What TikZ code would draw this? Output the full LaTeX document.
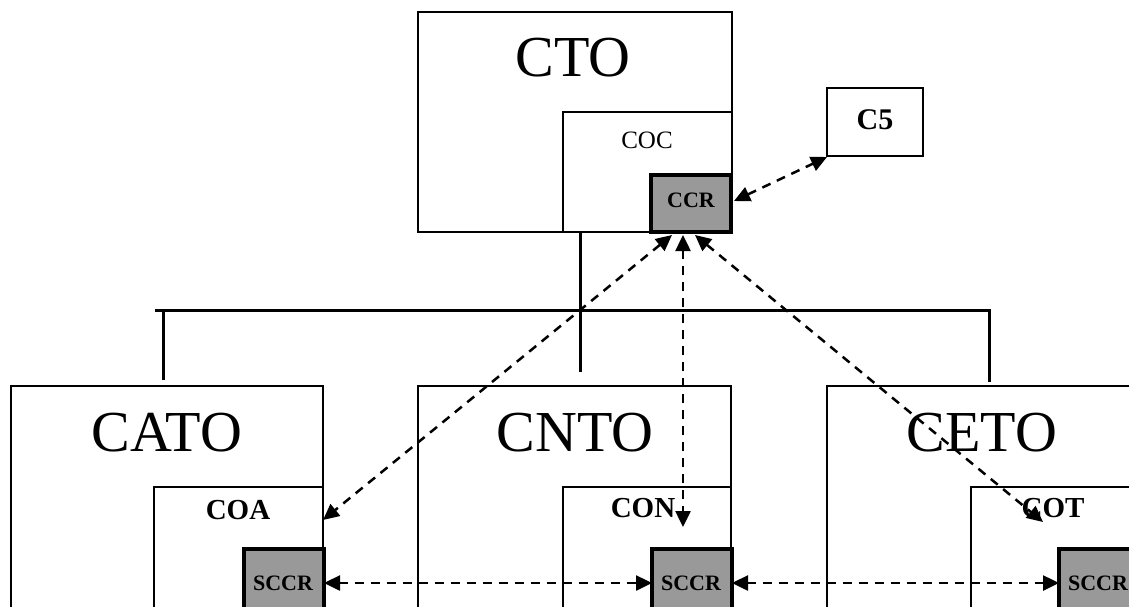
\documentclass[tikz,border=0pt]{standalone}
\usepackage{fontspec}
\setmainfont{Liberation Serif}
\usetikzlibrary{arrows.meta}
\definecolor{boxgray}{RGB}{153,153,153}
\tikzset{
  box/.style={draw, line width=1.3pt, anchor=north west, inner sep=0pt, outer sep=0pt},
  regbox/.style={draw, line width=3.5pt, fill=boxgray, anchor=north west, inner sep=0pt, outer sep=0pt},
  bus/.style={line width=3pt},
  tip/.tip={Triangle[length=16pt,width=15pt]},
  link/.style={line width=2.5pt, dash pattern=on 9pt off 7pt, tip-tip},
  big/.style={font=\fontsize{58}{60}\selectfont},
  mid/.style={font=\fontsize{29}{30}\selectfont\bfseries},
  small/.style={font=\fontsize{22}{23}\selectfont\bfseries}
}
\begin{document}
\begin{tikzpicture}[x=1pt,y=-1pt]
\useasboundingbox (0,0) rectangle (1129,606);
\clip (0,0) rectangle (1129,606);
% top organisation
\node[box, minimum width=314, minimum height=220] (cto) at (418,12) {};
\node[box, minimum width=169, minimum height=120] (coc) at (563,112) {};
\node[regbox, minimum width=80, minimum height=57] (ccr) at (651,175) {};
\node[box, minimum width=96, minimum height=68] (c5) at (827,88) {};
\node[big] (tcto) at (573,58) {CTO};
\node[font=\fontsize{25}{26}\selectfont] (tcoc) at (647,140) {COC};
\node[small] (tccr) at (691,200) {CCR};
\node[font=\fontsize{30}{32}\selectfont\bfseries] (tc5) at (875,120) {C5};
% bottom organisations
\node[box, minimum width=312, minimum height=260] (cato) at (11,386) {};
\node[box, minimum width=313, minimum height=260] (cnto) at (418,386) {};
\node[box, minimum width=313, minimum height=260] (ceto) at (827,386) {};
\node[box, minimum width=169, minimum height=160] (coa) at (154,487) {};
\node[box, minimum width=168, minimum height=160] (con) at (563,487) {};
\node[box, minimum width=169, minimum height=160] (cot) at (971,487) {};
\node[regbox, minimum width=80, minimum height=80] (s1) at (244,549) {};
\node[regbox, minimum width=80, minimum height=80] (s2) at (652,549) {};
\node[regbox, minimum width=80, minimum height=80] (s3) at (1059,549) {};
\node[big] (tcato) at (167,433) {CATO};
\node[big] (tcnto) at (575,433) {CNTO};
\node[big] (tceto) at (982,433) {CETO};
\node[mid] (tcoa) at (238,510) {COA};
\node[mid] (tcon) at (643,508) {CON};
\node[mid] (tcot) at (1053,508) {COT};
\node[small] (ts1) at (283,583) {SCCR};
\node[small] (ts2) at (691,583) {SCCR};
\node[small] (ts3) at (1098,583) {SCCR};
% hierarchy bus
\coordinate (ctoout) at (580,232);
\coordinate (busl) at (155,310);
\coordinate (busr) at (989,310);
\coordinate (dropl) at (163,310);
\coordinate (dropm) at (580,372);
\coordinate (dropla) at (163,380);
\coordinate (droprb) at (989,382);
\draw[bus] (ctoout) -- (dropm);
\draw[bus] (busl) -- (busr) -- (droprb);
\draw[bus] (dropl) -- (dropla);
% communication links
\coordinate (ccrr) at (734,201);
\coordinate (c5bl) at (827,157);
\coordinate (ccrb1) at (672,235);
\coordinate (ccrb2) at (683,235);
\coordinate (ccrb3) at (695,235);
\coordinate (coae) at (323,520);
\coordinate (conp) at (683,527);
\coordinate (cotp) at (1043,522);
\draw[link] (ccrr) -- (c5bl);
\draw[link] (ccrb1) -- (coae);
\draw[link] (ccrb2) -- (conp);
\draw[link] (ccrb3) -- (cotp);
\draw[link] (s1.east |- ts1) -- (s2.west |- ts2);
\draw[link] (s2.east |- ts2) -- (s3.west |- ts3);
\end{tikzpicture}
\end{document}
